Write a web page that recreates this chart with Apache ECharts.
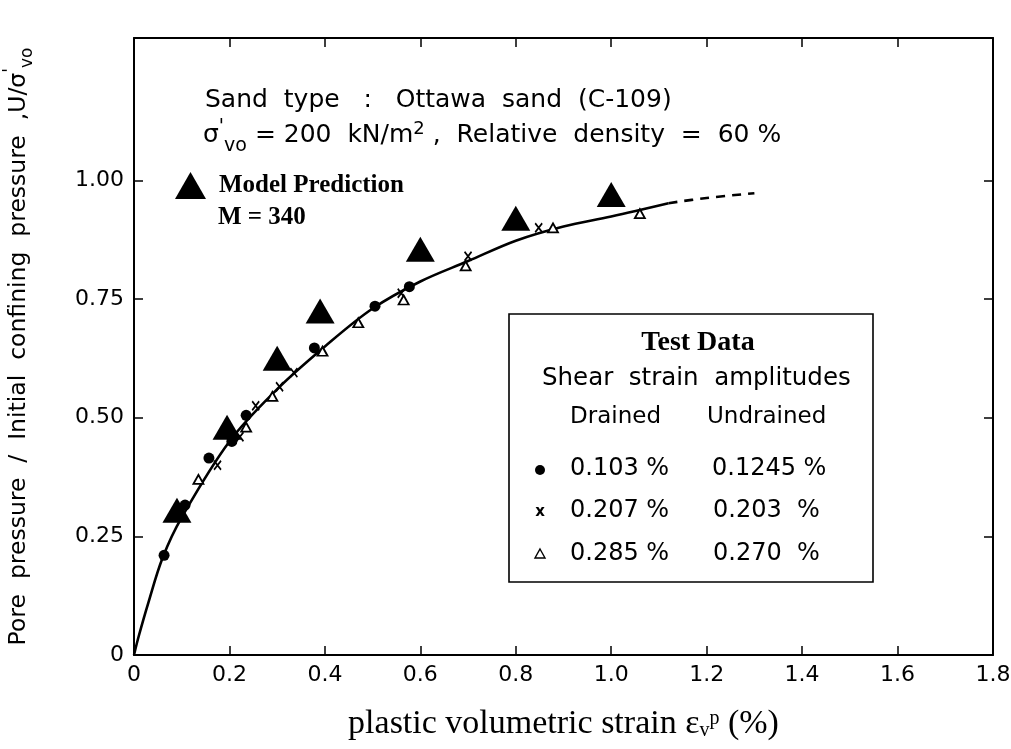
<!DOCTYPE html>
<html><head><meta charset="utf-8">
<script src="https://cdn.jsdelivr.net/npm/echarts@6/dist/echarts.min.js"></script>
<style>html,body{margin:0;padding:0;background:#fff}#c{width:1011px;height:749px}</style>
</head><body><div id="c"></div>
<script>
// ---- data ----
const xTickValues = [0, 0.2, 0.4, 0.6, 0.8, 1.0, 1.2, 1.4, 1.6, 1.8];
const yTickValues = [0, 0.25, 0.5, 0.75, 1.0];
const modelX = [0.09, 0.195, 0.30, 0.39, 0.60, 0.80, 1.00];
const modelY = [0.305, 0.48, 0.625, 0.725, 0.855, 0.92, 0.97];
const circleX = [0.063, 0.107, 0.157, 0.205, 0.235, 0.378, 0.505, 0.577];
const circleY = [0.21, 0.316, 0.415, 0.45, 0.505, 0.647, 0.735, 0.776];
const crossX = [0.175, 0.222, 0.255, 0.305, 0.335, 0.56, 0.70, 0.848];
const crossY = [0.40, 0.46, 0.525, 0.565, 0.595, 0.762, 0.84, 0.90];
const openTriX = [0.135, 0.235, 0.29, 0.395, 0.47, 0.565, 0.695, 0.878, 1.06];
const openTriY = [0.37, 0.48, 0.545, 0.64, 0.70, 0.748, 0.82, 0.90, 0.93];
const curveX = [0, 0.01, 0.03, 0.06, 0.1, 0.2, 0.3, 0.4, 0.5, 0.6, 0.7, 0.8, 0.9, 1.0, 1.12];
const curveY = [0, 0.04, 0.11, 0.205, 0.29, 0.45, 0.56, 0.65, 0.73, 0.787, 0.83, 0.873, 0.903, 0.924, 0.952];
const dashX = [1.12, 1.2, 1.3];
const dashY = [0.952, 0.963, 0.973];

const SANS = 'DejaVu Sans';
const SERIF = 'Liberation Serif';
const zip = (a, b) => a.map((v, i) => [v, b[i]]);

const chart = echarts.init(document.getElementById('c'));
const axisLineStyle = { color: '#000', width: 2 };
const tickStyle = { color: '#000', width: 1.5 };

const option = {
  backgroundColor: '#fff',
  animation: false,
  grid: { left: 134, right: 18, top: 38, bottom: 94, outerBoundsMode: 'none', containLabel: false },
  legend: {
    data: ['Model Prediction'],
    left: 170, top: 167,
    itemWidth: 31, itemHeight: 27,
    textStyle: { color: '#000', fontFamily: SERIF, fontWeight: 'bold', fontSize: 25, padding: [0, 0, 0, 8] }
  },
  xAxis: [{
    type: 'value', min: 0, max: 1.8, interval: 0.2,
    axisLine: { onZero: false, lineStyle: axisLineStyle },
    axisTick: { inside: true, length: 9, lineStyle: tickStyle, customValues: xTickValues },
    splitLine: { show: false },
    axisLabel: { color: '#000', fontFamily: SANS, fontSize: 22, margin: 9, customValues: xTickValues,
      formatter: v => v === 0 ? '0' : v.toFixed(1) },
    name: '{a|plastic volumetric strain ε}{sub|v}{sup|p}{a| (%)}',
    nameLocation: 'middle', nameGap: 48,
    nameTextStyle: { color: '#000', rich: {
      a: { fontFamily: SERIF, fontSize: 34, color: '#000', lineHeight: 42, verticalAlign: 'middle' },
      sub: { fontFamily: SERIF, fontSize: 20, color: '#000', lineHeight: 42, verticalAlign: 'bottom', padding: [0, 0, 4, 0] },
      sup: { fontFamily: SERIF, fontSize: 20, color: '#000', lineHeight: 42, verticalAlign: 'top', padding: [6, 0, 0, 0] }
    } }
  }, {
    type: 'value', position: 'top', min: 0, max: 1.8, interval: 0.2,
    axisLine: { onZero: false, lineStyle: axisLineStyle },
    axisTick: { inside: true, length: 9, lineStyle: tickStyle, customValues: xTickValues },
    axisLabel: { show: false }, splitLine: { show: false }
  }],
  yAxis: [{
    type: 'value', min: 0, max: 1.3, interval: 0.25,
    axisLine: { onZero: false, lineStyle: axisLineStyle },
    axisTick: { inside: true, length: 9, lineStyle: tickStyle, customValues: yTickValues },
    splitLine: { show: false },
    axisLabel: { color: '#000', fontFamily: SANS, fontSize: 22, margin: 10, customValues: yTickValues,
      formatter: v => v === 0 ? '0' : v.toFixed(2) },
    name: '{a|Pore  pressure  /  Initial  confining  pressure  ,U/σ}{sup|\'}{sub|vo}',
    nameLocation: 'middle', nameGap: 98, nameRotate: 90,
    nameTextStyle: { color: '#000', rich: {
      a: { fontFamily: SANS, fontSize: 23.5, color: '#000', lineHeight: 34, verticalAlign: 'middle' },
      sub: { fontFamily: SANS, fontSize: 17, color: '#000', lineHeight: 34, verticalAlign: 'bottom' },
      sup: { fontFamily: SANS, fontSize: 17, color: '#000', lineHeight: 34, verticalAlign: 'top' }
    } }
  }, {
    type: 'value', position: 'right', min: 0, max: 1.3, interval: 0.25,
    axisLine: { onZero: false, lineStyle: axisLineStyle },
    axisTick: { inside: true, length: 9, lineStyle: tickStyle, customValues: yTickValues },
    axisLabel: { show: false }, splitLine: { show: false }
  }],
  series: [
    { name: 'curve', type: 'line', data: zip(curveX, curveY), smooth: 0.35, showSymbol: false,
      lineStyle: { color: '#000', width: 2.6 }, z: 2 },
    { name: 'curve extrapolated', type: 'line', data: zip(dashX, dashY), smooth: 0.35, showSymbol: false,
      lineStyle: { color: '#000', width: 2.6, type: [9, 7] }, z: 2 },
    { name: 'Drained 0.103 % / Undrained 0.1245 %', type: 'scatter', data: zip(circleX, circleY),
      symbol: 'circle', symbolSize: 11, itemStyle: { color: '#000', opacity: 1 }, z: 4 },
    { name: 'Drained 0.207 % / Undrained 0.203 %', type: 'scatter', data: zip(crossX, crossY),
      symbol: 'path://M0,0L10,12M10,0L0,12', symbolSize: [7, 9],
      itemStyle: { color: '#000', borderColor: '#000', borderWidth: 1.8, opacity: 1 }, z: 4 },
    { name: 'Drained 0.285 % / Undrained 0.270 %', type: 'scatter', data: zip(openTriX, openTriY),
      symbol: 'triangle', symbolSize: [10, 9],
      itemStyle: { color: '#fff', borderColor: '#000', borderWidth: 1.8, opacity: 1 }, z: 4 },
    { name: 'Model Prediction', type: 'scatter', data: zip(modelX, modelY),
      symbol: 'triangle', symbolSize: [29, 25], itemStyle: { color: '#000', opacity: 1 }, z: 5 }
  ],
  graphic: [
    { type: 'text', left: 205, top: 88, style: { text: 'Sand  type   :   Ottawa  sand  (C-109)',
      font: '25px "DejaVu Sans"', fill: '#000' } },
    { type: 'text', left: 203, top: 114, style: {
      text: '{a|σ}{sup|\'}{sub|vo}{a| = 200  kN/m}{sup2|2}{a| ,  Relative  density  =  60 %}',
      rich: {
        a: { font: '25px "DejaVu Sans"', fill: '#000', lineHeight: 42, verticalAlign: 'middle' },
        sup: { font: '19px "DejaVu Sans"', fill: '#000', lineHeight: 42, verticalAlign: 'top', padding: [4, 0, 0, 0] },
        sup2: { font: '18px "DejaVu Sans"', fill: '#000', lineHeight: 42, verticalAlign: 'top', padding: [6, 0, 0, 0] },
        sub: { font: '19px "DejaVu Sans"', fill: '#000', lineHeight: 42, verticalAlign: 'bottom' }
      } } },
    { type: 'text', left: 218, top: 205, style: { text: 'M = 340', font: 'bold 25px "Liberation Serif"', fill: '#000' } },
    // legend box for test data
    { type: 'rect', shape: { x: 509, y: 314, width: 364, height: 268 },
      style: { fill: '#fff', stroke: '#000', lineWidth: 1.6 }, z: 10 },
    { type: 'text', x: 698, y: 343, z: 11, style: { text: 'Test Data', font: 'bold 28px "Liberation Serif"', fill: '#000', align: 'center', verticalAlign: 'middle' } },
    { type: 'text', x: 542, y: 379, z: 11, style: { text: 'Shear  strain  amplitudes', font: '24.5px "DejaVu Sans"', fill: '#000', verticalAlign: 'middle' } },
    { type: 'text', x: 570, y: 417, z: 11, style: { text: 'Drained', font: '23px "DejaVu Sans"', fill: '#000', verticalAlign: 'middle' } },
    { type: 'text', x: 707, y: 417, z: 11, style: { text: 'Undrained', font: '23px "DejaVu Sans"', fill: '#000', verticalAlign: 'middle' } },
    { type: 'circle', shape: { cx: 540, cy: 470, r: 5 }, style: { fill: '#000' }, z: 11 },
    { type: 'text', x: 570, y: 469, z: 11, style: { text: '0.103 %', font: '24px "DejaVu Sans"', fill: '#000', verticalAlign: 'middle' } },
    { type: 'text', x: 712, y: 469, z: 11, style: { text: '0.1245 %', font: '24px "DejaVu Sans"', fill: '#000', verticalAlign: 'middle' } },
    { type: 'text', x: 540, y: 512, z: 11, style: { text: 'x', font: 'bold 15px "DejaVu Sans"', fill: '#000', align: 'center', verticalAlign: 'middle' } },
    { type: 'text', x: 570, y: 511, z: 11, style: { text: '0.207 %', font: '24px "DejaVu Sans"', fill: '#000', verticalAlign: 'middle' } },
    { type: 'text', x: 713, y: 511, z: 11, style: { text: '0.203  %', font: '24px "DejaVu Sans"', fill: '#000', verticalAlign: 'middle' } },
    { type: 'polygon', shape: { points: [[540, 549], [545, 558], [535, 558]] }, style: { fill: '#fff', stroke: '#000', lineWidth: 1.4 }, z: 11 },
    { type: 'text', x: 570, y: 554, z: 11, style: { text: '0.285 %', font: '24px "DejaVu Sans"', fill: '#000', verticalAlign: 'middle' } },
    { type: 'text', x: 713, y: 554, z: 11, style: { text: '0.270  %', font: '24px "DejaVu Sans"', fill: '#000', verticalAlign: 'middle' } }
  ]
};
chart.setOption(option);
</script>
</body></html>
